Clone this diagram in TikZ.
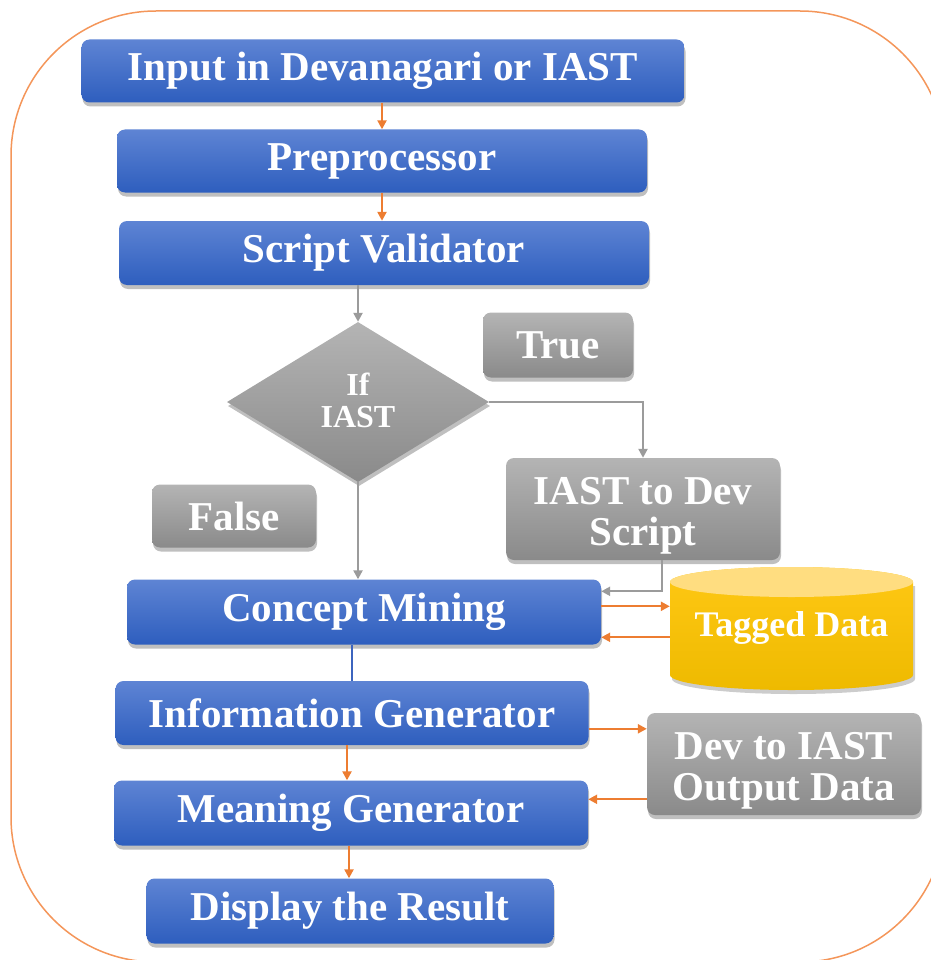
\documentclass[tikz,border=0pt]{standalone}
\usepackage{fontspec}
\setmainfont{Liberation Serif}
\usetikzlibrary{shapes.geometric,shadows,arrows.meta}
\definecolor{blueT}{RGB}{94,132,212}
\definecolor{blueB}{RGB}{46,94,190}
\definecolor{grayT}{RGB}{180,180,180}
\definecolor{grayB}{RGB}{138,138,138}
\definecolor{orangeA}{RGB}{237,125,49}
\definecolor{frameC}{RGB}{244,150,90}
\definecolor{arrowG}{RGB}{155,155,155}
\definecolor{goldT}{RGB}{255,200,20}
\definecolor{goldB}{RGB}{238,186,0}
\definecolor{goldTop}{RGB}{255,221,128}
\definecolor{lineB}{RGB}{60,100,190}
\tikzset{
  shad/.style={drop shadow={shadow xshift=1pt, shadow yshift=-4pt, opacity=0.25, fill=black}},
  boxbase/.style={rounded corners=8pt, draw=none, text=white, inner sep=0pt, align=center, shad},
  bluebox/.style={boxbase, top color=blueT, bottom color=blueB, font=\bfseries\fontsize{41}{44}\selectfont},
  graybox/.style={boxbase, top color=grayT, bottom color=grayB, font=\bfseries\fontsize{41}{41}\selectfont},
  oarrow/.style={draw=orangeA, line width=2.3pt, -{Triangle[length=9pt,width=9pt]}},
  garrow/.style={draw=arrowG, line width=2.3pt, -{Triangle[length=9pt,width=9pt]}},
}
\newcommand{\topstrut}{\rule{0pt}{41pt}}
\begin{document}
\begin{tikzpicture}[x=1pt,y=-1pt]
\useasboundingbox (0,0) rectangle (930,960);
\draw[frameC, line width=1.5pt, rounded corners=145pt] (11,11) rectangle (945,962);

\node[bluebox, minimum width=603pt, minimum height=63pt] (in) at (383,71) {Input in Devanagari or IAST};
\node[bluebox, minimum width=530pt, minimum height=63pt] (pre) at (382,161) {Preprocessor};
\node[bluebox, minimum width=530pt, minimum height=64pt] (sv) at (384,253) {Script Validator};
\node[diamond, aspect=1.64, minimum width=262pt, minimum height=160pt, inner sep=0pt,
      top color=grayT, bottom color=grayB, text=white, align=center, shad,
      font=\bfseries\fontsize{32}{32}\selectfont] (dia) at (358,402) {\raisebox{4pt}{If}\\\raisebox{4pt}{IAST}};
\node[graybox, minimum width=150pt, minimum height=65pt] (tru) at (558,345) {True};
\node[graybox, minimum width=164pt, minimum height=63pt] (fal) at (234,516) {False};
\node[graybox, minimum width=274pt, minimum height=102pt] (iast) at (643,509) {\topstrut IAST to Dev\\Script};
\node[bluebox, minimum width=474pt, minimum height=65pt] (cm) at (364,612) {Concept Mining};
\node[bluebox, minimum width=473pt, minimum height=64pt] (ig) at (352,713) {Information Generator};
\node[graybox, minimum width=274pt, minimum height=102pt] (di) at (784,764) {\topstrut Dev to IAST\\Output Data};
\node[bluebox, minimum width=474pt, minimum height=65pt] (mg) at (351,813) {Meaning Generator};
\node[bluebox, minimum width=407pt, minimum height=65pt] (dr) at (350,911) {Display the Result};

% cylinder
\fill[black, opacity=0.2] (672,586) -- (672,679) arc[start angle=180, end angle=360, x radius=121.5pt, y radius=15pt] -- (915,586) -- cycle;
\path[top color=goldT, bottom color=goldB] (670,582) -- (670,675) arc[start angle=180, end angle=360, x radius=121.5pt, y radius=15pt] -- (913,582) arc[start angle=0, end angle=180, x radius=121.5pt, y radius=15pt] -- cycle;
\fill[goldTop] (791.5,582) ellipse[x radius=121.5pt, y radius=15pt];
\node[minimum width=243pt, minimum height=123pt, inner sep=0pt, text=white,
      font=\bfseries\fontsize{36}{38}\selectfont] (td) at (791.5,628) {Tagged Data};

% connectors
\draw[oarrow] (in.south -| pre.north) -- (pre.north);
\draw[oarrow] (pre.south) -- (pre.south |- sv.north);
\draw[garrow] (sv.south -| dia.north) -- (dia.north);
\draw[garrow] (dia.east) -| (iast.north);
\draw[garrow] (dia.south) -- (dia.south |- cm.north);
\draw[garrow] ([xshift=19pt]iast.south) |- ([yshift=-12pt]cm.north east);
\draw[oarrow] ([yshift=-27pt]cm.north east) -- ([yshift=-27pt]cm.north east -| td.west);
\draw[oarrow] ([yshift=-58pt]cm.north east -| td.west) -- ([yshift=-58pt]cm.north east);
\draw[draw=lineB, line width=2.3pt] (ig.north |- cm.south) -- (ig.north);
\draw[oarrow] ([yshift=-48pt]ig.north east) -- ([yshift=-48pt]ig.north east -| di.west);
\draw[oarrow] ([xshift=-5pt]ig.south) -- ([xshift=-5pt]ig.south |- mg.north);
\draw[oarrow] ([yshift=-19pt]mg.north east -| di.west) -- ([yshift=-19pt]mg.north east);
\draw[oarrow] ([xshift=-2pt]mg.south) -- ([xshift=-2pt]mg.south |- dr.north);
\end{tikzpicture}
\end{document}
